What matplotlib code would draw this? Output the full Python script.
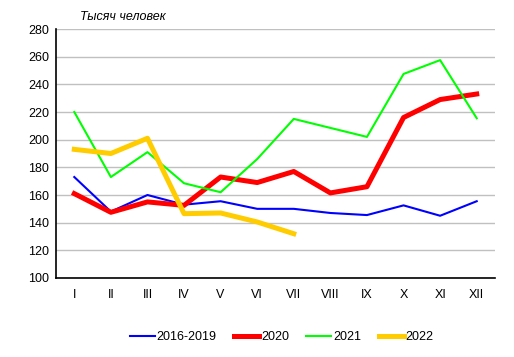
import matplotlib
matplotlib.use('Agg')
from matplotlib import pyplot as plt

plt.rcParams['font.family'] = ['Liberation Sans', 'DejaVu Sans']

months = ['I', 'II', 'III', 'IV', 'V', 'VI', 'VII', 'VIII', 'IX', 'X', 'XI', 'XII']
avg_2016_2019 = [173, 148, 160, 153, 155.5, 150, 150, 147, 145.5, 152.5, 145, 155.5]
y2020 = [161, 147.5, 155, 152.5, 173, 169, 177, 161.5, 166, 216, 229, 233]
y2021 = [220, 173, 191, 168.5, 162, 186, 215, 208.5, 202, 247.5, 257.5, 215.5]
y2022 = [193, 190, 201, 146.5, 147, 140.5, 132]

fig = plt.figure(figsize=(5.14, 3.57), dpi=100)
ax = fig.add_axes([56 / 514, 1 - 278 / 357, 439 / 514, 249 / 357])

x = list(range(len(months)))
ax.plot(x, avg_2016_2019, c='#0000ff', lw=1.5, label='2016-2019')
ax.plot(x, y2020, c='#ff0000', lw=3.6, label='2020')
ax.plot(x, y2021, c='#00ff00', lw=1.5, label='2021')
ax.plot(x[:len(y2022)], y2022, c='#ffcc00', lw=3.6, label='2022')

# Format plot.
ax.set_xlim(-0.5, 11.5)
ax.set_ylim(100, 280)
ax.set_yticks(range(100, 281, 20))
ax.set_xticks(x)
ax.set_xticklabels(months)
ax.grid(axis='y', color='#c0c0c0', lw=1)
ax.set_axisbelow(True)
for s in ['top', 'right']:
    ax.spines[s].set_visible(False)
ax.spines['left'].set_linewidth(1.2)
ax.spines['bottom'].set_linewidth(1.2)
ax.tick_params(axis='both', length=0, labelsize=9, pad=8)
ax.tick_params(axis='y', pad=5)

fig.text(80 / 514, 1 - 17 / 357, 'Тысяч человек', fontsize=9, style='italic', va='center')

fig.legend(loc='center', bbox_to_anchor=(0.548, 1 - 337 / 357), ncol=4, frameon=False,
           fontsize=9, handlelength=2.0, handletextpad=0.15, columnspacing=1.4)

fig.savefig('out.png', dpi=100)
